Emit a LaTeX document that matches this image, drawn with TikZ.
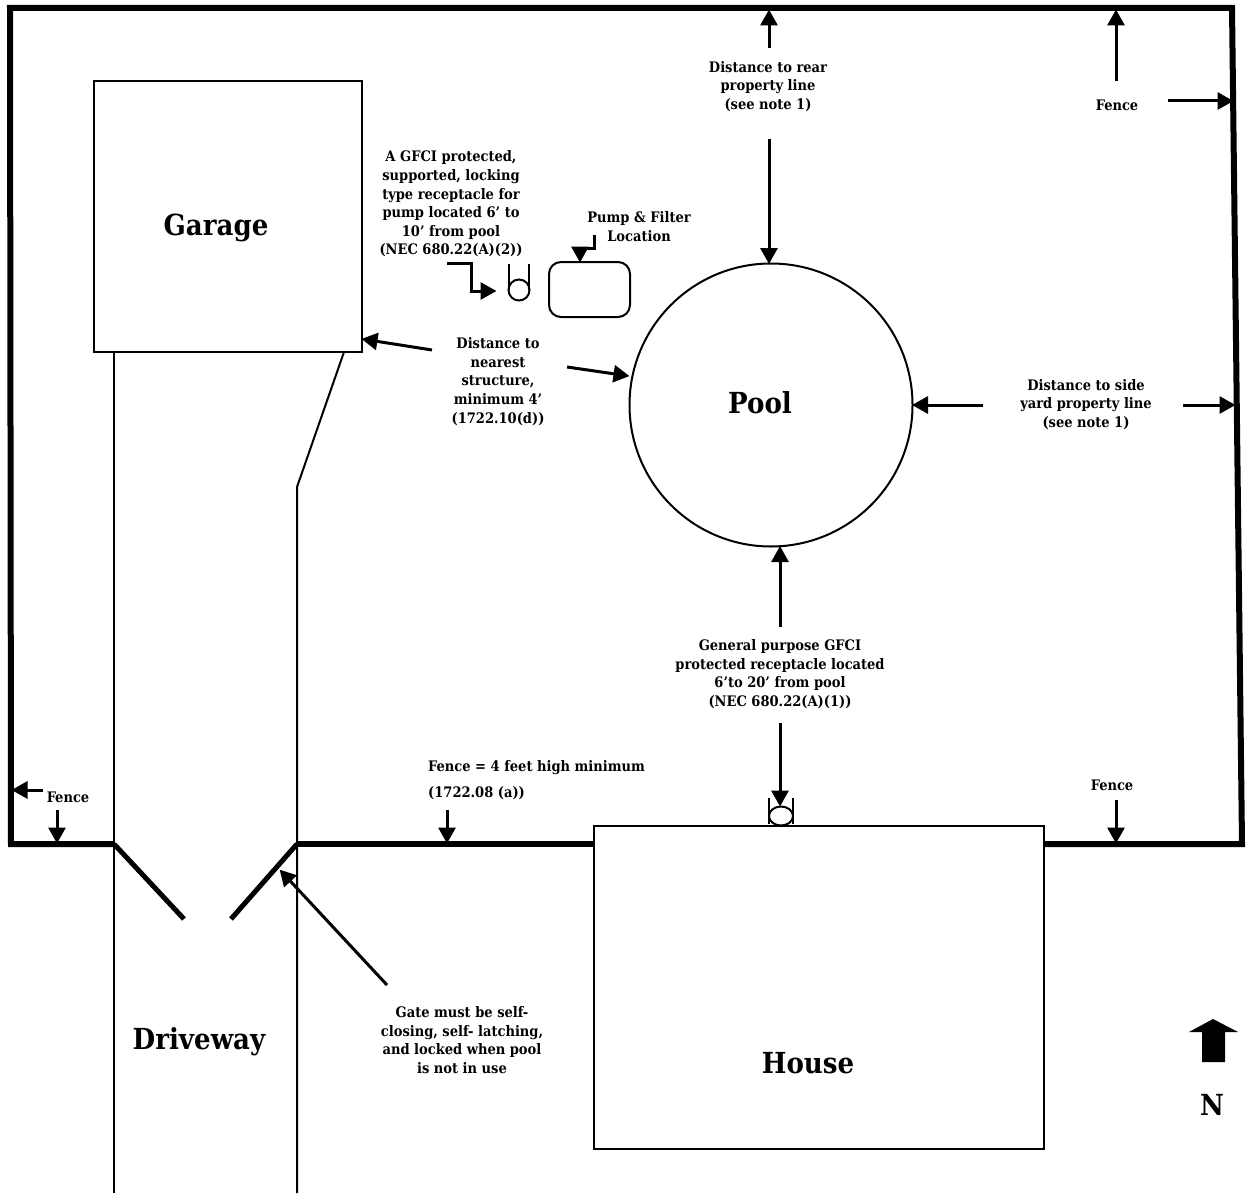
\documentclass[tikz,border=0pt]{standalone}
\usepackage{fontspec}
\setmainfont{DejaVu Serif Condensed}
\usetikzlibrary{arrows.meta,calc,shapes.geometric}
\tikzset{
 x=1pt,y=-1pt,
 fence/.style={line width=6pt,line cap=butt,line join=miter},
 thin line/.style={line width=2pt},
 arr/.style={line width=3pt,-{Triangle[length=16pt,width=17pt]},shorten >=-0.5pt},
 lab/.style={font=\bfseries\fontsize{14.5}{18.6}\selectfont,align=center,inner sep=0pt,text=black},
 big/.style={font=\bfseries\fontsize{29}{34}\selectfont,inner sep=0pt},
 box/.style={draw,line width=2pt,fill=white,inner sep=0pt,outer sep=0pt,minimum width=0pt}
}
\begin{document}
\begin{tikzpicture}
\useasboundingbox (0,0) rectangle (1246,1193);
% fence corners
\coordinate (tl) at (10,8);
\coordinate (tr) at (1232,8);
\coordinate (br) at (1242,844);
\coordinate (bl) at (11,844);
\coordinate (gl) at (114,844);
\coordinate (gr) at (297,844);
\coordinate (gle) at (184,919);
\coordinate (gre) at (231,919);
\coordinate (houseR) at (1044,844);
\coordinate (houseL) at (594,844);
\draw[fence] (gl) -- (bl) -- (tl) -- (tr) -- (br) -- (houseR);
\draw[fence] (gr) -- (houseL);
\draw[fence,line width=5pt] (gl) -- (gle);
\draw[fence,line width=5pt] (gr) -- (gre);
% driveway
\coordinate (dl) at (114,1193);
\coordinate (dr) at (297,1193);
\coordinate (dk) at (297,487);
\coordinate (gs) at (344,352);
\coordinate (gt) at (114,352);
\draw[thin line] (gt) -- (dl);
\draw[thin line] (gs) -- (dk) -- (dr);
% buildings
\node[box,anchor=north west,minimum width=268pt,minimum height=271pt] (garage) at (94,81) {};
\node[box,anchor=north west,minimum width=450pt,minimum height=323pt] (house) at (594,826) {};
\node[box,circle,minimum size=283pt] (pool) at (771,405) {};
\node[box,rounded corners=12pt,anchor=north west,minimum width=81pt,minimum height=55pt] (pump) at (549,262) {};
\node[big] (tgarage) at (216,228) {Garage};
\node[big] (tpool) at (760,403) {Pool};
\node[big] (tdrive) at (199,1042) {Driveway};
\node[big] (thouse) at (808,1063) {House};
\node[big] (tn) at (1212,1105) {N};
% receptacles
\node[draw,circle,line width=2pt,minimum size=21pt,inner sep=0pt,outer sep=0pt] (rec1) at (519,290) {};
\coordinate (r1a) at (509,264); \coordinate (r1b) at (529,264);
\draw[thin line] (r1a) -- (r1a |- rec1.west);
\draw[thin line] (r1b) -- (r1b |- rec1.east);
\node[draw,ellipse,line width=2pt,fill=white,minimum width=24pt,minimum height=19pt,inner sep=0pt,outer sep=0pt] (rec2) at (781,816) {};
\coordinate (r2a) at (769,798); \coordinate (r2b) at (793,798);
\draw[thin line] (r2a) -- (769,824);
\draw[thin line] (r2b) -- (793,824);
% labels
\node[lab] (l1) at (768,86.5) {Distance to rear\\property line\\(see note 1)};
\node[lab] (l2) at (1117,105) {Fence};
\node[lab] (l3) at (451,204) {A GFCI protected,\\supported, locking\\type receptacle for\\pump located 6’ to\\10’ from pool\\(NEC 680.22(A)(2))};
\node[lab] (l4) at (639,226.5) {Pump \& Filter\\Location};
\node[lab] (l5) at (498,381.5) {Distance to\\nearest\\structure,\\minimum 4’\\(1722.10(d))};
\node[lab] (l6) at (1086,404.5) {Distance to side\\yard property line\\(see note 1)};
\node[lab] (l7) at (780,674) {General purpose GFCI\\protected receptacle located\\6’to 20’ from pool\\(NEC 680.22(A)(1))};
\node[lab,anchor=west] (l8) at (428,768) {Fence = 4 feet high minimum};
\node[lab,anchor=west] (l9) at (428,793) {(1722.08 (a))};
\node[lab] (l10) at (1112,785) {Fence};
\node[lab] (l11) at (68,797) {Fence};
\node[lab] (l12) at (462,1040) {Gate must be self-\\closing, self- latching,\\and locked when pool\\is not in use};
% arrows
\coordinate (s1) at (769,48); \draw[arr] (s1) -- (769,10);
\coordinate (s2) at (769,139); \draw[arr] (s2) -- (s2 |- pool.north);
\coordinate (s3) at (1116,81); \draw[arr] (s3) -- (1116,10);
\coordinate (s4) at (1168,101); \draw[arr] (s4) -- (1233,101);
\coordinate (s5) at (447,263); \draw[arr] (s5) -- (471,263) -- (471,291) -- (496,291);
\coordinate (s6) at (594,235); \draw[arr] (s6) -- (594,248) -- (580,248) -- (580,262);
\coordinate (s7) at (432,350); \draw[arr] (s7) -- (362,339);
\coordinate (s8) at (567,367); \draw[arr] (s8) -- (629,376);
\coordinate (s9) at (983,405); \draw[arr] (s9) -- (pool.east);
\coordinate (s10) at (1183,405); \draw[arr] (s10) -- (1235,405);
\coordinate (s11) at (780,627); \draw[arr] (s11) -- (s11 |- pool.south);
\coordinate (s12) at (780,723); \draw[arr] (s12) -- (780,806);
\coordinate (s13) at (447,810); \draw[arr] (s13) -- (447,843);
\coordinate (s14) at (1116,800); \draw[arr] (s14) -- (1116,843);
\coordinate (s15) at (43,790); \draw[arr] (s15) -- (12,790);
\coordinate (s16) at (57,810); \draw[arr] (s16) -- (57,843);
\coordinate (s17) at (387,985); \draw[arr] (s17) -- (280,870);
% north arrow
\fill (1202,1062) -- (1202,1032) -- (1189,1032) -- (1213,1019) -- (1238,1032) -- (1225,1032) -- (1225,1062) -- cycle;
\end{tikzpicture}
\end{document}
